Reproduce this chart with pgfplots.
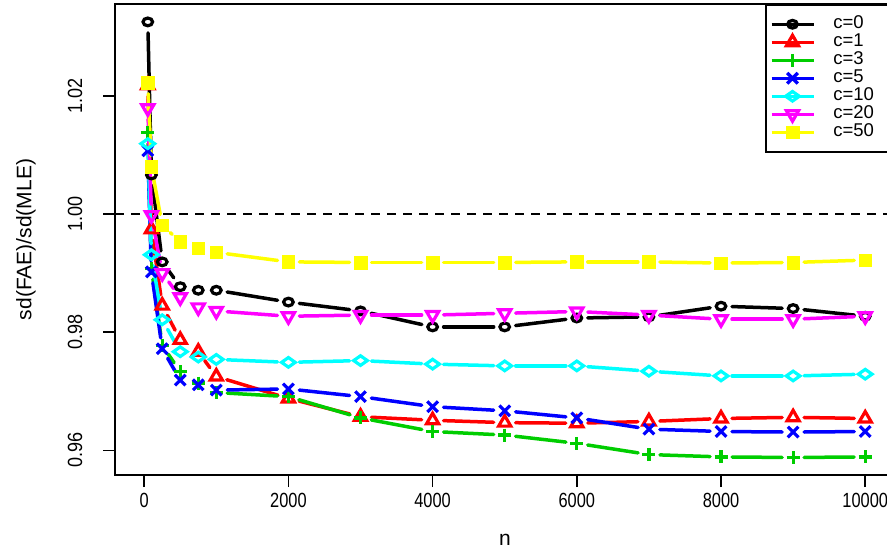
\documentclass[border=0pt]{standalone}
\usepackage{pgfplots}
\usepackage{pgfplotstable}
\pgfplotsset{compat=1.18}
\usepackage{fontspec}
\setmainfont{Liberation Sans}
\definecolor{rgreen}{HTML}{00CD00}
\definecolor{rblue}{HTML}{0000FF}
\definecolor{rred}{HTML}{FF0000}
\definecolor{rcyan}{HTML}{00FFFF}
\definecolor{rmag}{HTML}{FF00FF}
\definecolor{ryel}{HTML}{FFFF00}
\newcommand{\xl}[1]{\scalebox{0.8}[1]{#1}}
\newcommand{\legtxt}[1]{\hspace*{17pt}\makebox[56pt][l]{#1}}
\newcommand{\ytl}[1]{\node[rotate=90, font=\fontsize{20.5}{24}\selectfont, inner sep=0pt] at ([xshift=-40pt]axis cs:-405,#1) {\scalebox{0.88}[1]{#1}};}
% points: n and sd ratio for each c
\pgfplotstableread{
n     c0     c1     c3     c5     c10    c20    c50
50    1.0325 1.0218 1.0138 1.0107 1.0119 1.0179 1.0222
100   1.0066 0.9974 0.9908 0.9902 0.9931 0.9998 1.0080
250   0.9919 0.9845 0.9778 0.9772 0.9821 0.9900 0.9981
500   0.9877 0.9787 0.9733 0.9719 0.9767 0.9859 0.9953
750   0.9871 0.9767 0.9714 0.9711 0.9758 0.9842 0.9942
1000  0.9871 0.9725 0.9698 0.9702 0.9754 0.9836 0.9935
2000  0.9851 0.9688 0.9691 0.9704 0.9749 0.9827 0.9919
3000  0.9836 0.9657 0.9655 0.9691 0.9752 0.9829 0.9918
4000  0.9809 0.9651 0.9632 0.9674 0.9746 0.9829 0.9918
5000  0.9809 0.9647 0.9626 0.9667 0.9743 0.9832 0.9918
6000  0.9824 0.9646 0.9612 0.9655 0.9743 0.9835 0.9919
7000  0.9826 0.9649 0.9593 0.9636 0.9734 0.9829 0.9919
8000  0.9844 0.9654 0.9589 0.9632 0.9726 0.9822 0.9917
9000  0.9840 0.9656 0.9588 0.9631 0.9726 0.9822 0.9918
10000 0.9827 0.9654 0.9589 0.9632 0.9729 0.9827 0.9922
}\pts
% line segments between neighbouring points (R type="b")
\pgfplotstableread{
x y x2 y2
50 1.0325 100 1.0066
100 1.0066 250 0.9919
250 0.9919 500 0.9877
1000 0.9871 2000 0.9851
2000 0.9851 3000 0.9836
3000 0.9836 4000 0.9809
4000 0.9809 5000 0.9809
5000 0.9809 6000 0.9824
6000 0.9824 7000 0.9826
7000 0.9826 8000 0.9844
8000 0.9844 9000 0.9840
9000 0.9840 10000 0.9827
}\segA
\pgfplotstableread{
x y x2 y2
50 1.0218 100 0.9974
100 0.9974 250 0.9845
250 0.9845 500 0.9787
750 0.9767 1000 0.9725
1000 0.9725 2000 0.9688
2000 0.9688 3000 0.9657
3000 0.9657 4000 0.9651
4000 0.9651 5000 0.9647
5000 0.9647 6000 0.9646
6000 0.9646 7000 0.9649
7000 0.9649 8000 0.9654
8000 0.9654 9000 0.9656
9000 0.9656 10000 0.9654
}\segB
\pgfplotstableread{
x y x2 y2
50 1.0138 100 0.9908
100 0.9908 250 0.9778
250 0.9778 500 0.9733
1000 0.9698 2000 0.9691
2000 0.9691 3000 0.9655
3000 0.9655 4000 0.9632
4000 0.9632 5000 0.9626
5000 0.9626 6000 0.9612
6000 0.9612 7000 0.9593
7000 0.9593 8000 0.9589
8000 0.9589 9000 0.9588
9000 0.9588 10000 0.9589
}\segC
\pgfplotstableread{
x y x2 y2
50 1.0107 100 0.9902
100 0.9902 250 0.9772
250 0.9772 500 0.9719
1000 0.9702 2000 0.9704
2000 0.9704 3000 0.9691
3000 0.9691 4000 0.9674
4000 0.9674 5000 0.9667
5000 0.9667 6000 0.9655
6000 0.9655 7000 0.9636
7000 0.9636 8000 0.9632
8000 0.9632 9000 0.9631
9000 0.9631 10000 0.9632
}\segD
\pgfplotstableread{
x y x2 y2
50 1.0119 100 0.9931
100 0.9931 250 0.9821
250 0.9821 500 0.9767
1000 0.9754 2000 0.9749
2000 0.9749 3000 0.9752
3000 0.9752 4000 0.9746
4000 0.9746 5000 0.9743
5000 0.9743 6000 0.9743
6000 0.9743 7000 0.9734
7000 0.9734 8000 0.9726
8000 0.9726 9000 0.9726
9000 0.9726 10000 0.9729
}\segE
\pgfplotstableread{
x y x2 y2
50 1.0179 100 0.9998
100 0.9998 250 0.9900
250 0.9900 500 0.9859
1000 0.9836 2000 0.9827
2000 0.9827 3000 0.9829
3000 0.9829 4000 0.9829
4000 0.9829 5000 0.9832
5000 0.9832 6000 0.9835
6000 0.9835 7000 0.9829
7000 0.9829 8000 0.9822
8000 0.9822 9000 0.9822
9000 0.9822 10000 0.9827
}\segF
\pgfplotstableread{
x y x2 y2
50 1.0222 100 1.0080
100 1.0080 250 0.9981
250 0.9981 500 0.9953
1000 0.9935 2000 0.9919
2000 0.9919 3000 0.9918
3000 0.9918 4000 0.9918
4000 0.9918 5000 0.9918
5000 0.9918 6000 0.9919
6000 0.9919 7000 0.9919
7000 0.9919 8000 0.9917
8000 0.9917 9000 0.9918
9000 0.9918 10000 0.9922
}\segG
\pgfplotsset{
  segs/.style={forget plot, line width=3.5pt, line cap=round,
    quiver={u=\thisrow{x2}-\thisrow{x}, v=\thisrow{y2}-\thisrow{y},
      every arrow/.append style={shorten <=11pt, shorten >=11pt}}},
  mA/.style={black, mark=o, mark size=4.8pt, mark options={line width=3.2pt, yscale=0.8}},
  mB/.style={rred, mark=triangle, mark size=7pt, mark options={line width=3.2pt}},
  mC/.style={rgreen, mark=+, mark size=6.5pt, mark options={line width=3.2pt}},
  mD/.style={rblue, mark=x, mark size=7.5pt, mark options={line width=3.2pt}},
  mE/.style={rcyan, mark=diamond, mark size=4.8pt, mark options={line width=3.2pt, xscale=1.9}},
  mF/.style={rmag, mark=triangle, mark size=7pt, mark options={line width=3.2pt, rotate=180}},
  mG/.style={ryel, mark=square*, mark size=6.3pt, mark options={line width=0.5pt}},
}
\begin{document}
\begin{tikzpicture}[x=1pt,y=1pt]
\path[use as bounding box] (0,0) rectangle (887,550);
\begin{axis}[
  at={(115pt,75pt)}, anchor=south west,
  scale only axis, width=780pt, height=471pt,
  xmin=-405, xmax=10413, ymin=0.95584, ymax=1.03553,
  scaled x ticks=false, scaled y ticks=false,
  axis line style={line width=1.5pt},
  xtick pos=bottom, ytick pos=left,
  tick align=outside, major tick length=12pt,
  tick style={line width=1.5pt, black},
  xtick={0,2000,4000,6000,8000,10000},
  xticklabels={\xl{0},\xl{2000},\xl{4000},\xl{6000},\xl{8000},\xl{10000}},
  ytick={0.96,0.98,1.00,1.02},
  yticklabels={,,,},
  yticklabel style={opacity=0, text opacity=0},
  xticklabel style={font=\fontsize{20.5}{24}\selectfont, yshift=-3pt},
  xlabel={n}, ylabel={sd(FAE)/sd(MLE)},
  every axis x label/.style={at={(axis description cs:0.5,-0.138)}, anchor=center, font=\fontsize{21}{25}\selectfont},
  every axis y label/.style={at={(axis description cs:-0.1141,0.5)}, rotate=90, anchor=center, font=\fontsize{21}{25}\selectfont},
  legend style={at={(rel axis cs:1,1)}, anchor=north east, draw=black, line width=1.5pt,
    fill=white, inner xsep=4pt, inner ysep=10.5pt, row sep=0pt,
    font=\fontsize{18.5}{20}\selectfont,
    nodes={inner sep=1pt, text height=12.5pt, text depth=3.5pt}},
  legend cell align=left,
  legend image code/.code={\draw[mark repeat=2,mark phase=2,#1] plot coordinates {(0pt,0pt) (21pt,0pt) (42pt,0pt)};},
  after end axis/.code={\ytl{0.96}\ytl{0.98}\ytl{1.00}\ytl{1.02}},
]
\addplot[black, line width=2.5pt, dash pattern=on 9pt off 7pt, forget plot] coordinates {(-405,1) (10413,1)};
\addplot[black, segs] table {\segA};
\addplot[mA, only marks, forget plot] table[x=n, y=c0] {\pts};
\addplot[rred, segs] table {\segB};
\addplot[mB, only marks, forget plot] table[x=n, y=c1] {\pts};
\addplot[rgreen, segs] table {\segC};
\addplot[mC, only marks, forget plot] table[x=n, y=c3] {\pts};
\addplot[rblue, segs] table {\segD};
\addplot[mD, only marks, forget plot] table[x=n, y=c5] {\pts};
\addplot[rcyan, segs] table {\segE};
\addplot[mE, only marks, forget plot] table[x=n, y=c10] {\pts};
\addplot[rmag, segs] table {\segF};
\addplot[mF, only marks, forget plot] table[x=n, y=c20] {\pts};
\addplot[ryel, segs] table {\segG};
\addplot[mG, only marks, forget plot] table[x=n, y=c50] {\pts};
\addlegendimage{mA, line width=3.5pt}\addlegendentry{\legtxt{c=0}}
\addlegendimage{mB, line width=3.5pt}\addlegendentry{\legtxt{c=1}}
\addlegendimage{mC, line width=3.5pt}\addlegendentry{\legtxt{c=3}}
\addlegendimage{mD, line width=3.5pt}\addlegendentry{\legtxt{c=5}}
\addlegendimage{mE, line width=3.5pt}\addlegendentry{\legtxt{c=10}}
\addlegendimage{mF, line width=3.5pt}\addlegendentry{\legtxt{c=20}}
\addlegendimage{mG, line width=3.5pt}\addlegendentry{\legtxt{c=50}}
\end{axis}
\end{tikzpicture}
\end{document}
